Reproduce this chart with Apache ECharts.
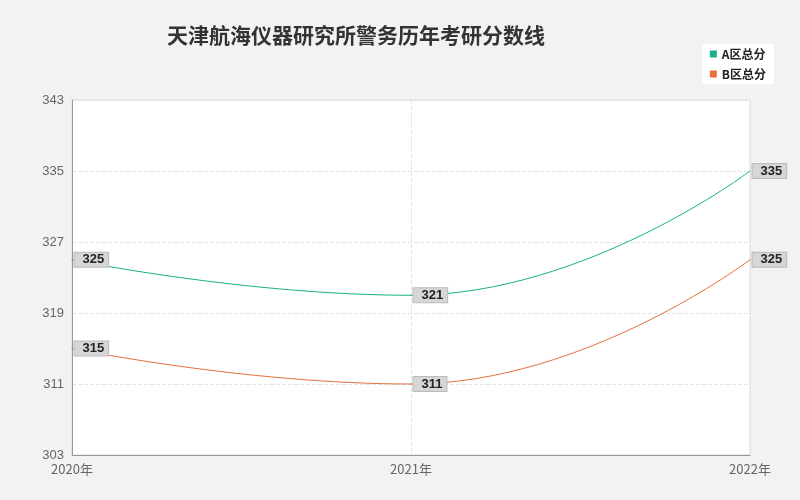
<!DOCTYPE html>
<html><head><meta charset="utf-8">
<script src="https://cdn.jsdelivr.net/npm/echarts@6/dist/echarts.min.js"></script>
<style>html,body{margin:0;background:#f2f2f2}#c{width:800px;height:500px}</style>
</head><body><div id="c"></div>
<script>
const categories=['2020年','2021年','2022年'];
const seriesA=[325,321,335];
const seriesB=[315,311,325];
const yTicks={min:303,max:343,interval:8};
const chart=echarts.init(document.getElementById('c'));
const lbl={show:true,position:'right',distance:2,color:'#222',fontSize:13,fontWeight:'bold',backgroundColor:'#d6d6d6',borderColor:'#bbb',borderWidth:1,padding:[1,4,0,8]};
chart.setOption({
 backgroundColor:'#f2f2f2',
 title:{text:'天津航海仪器研究所警务历年考研分数线',left:162,top:20,textStyle:{fontSize:21,fontWeight:'bold',color:'#333',fontFamily:'Noto Sans CJK SC'}},
 legend:{orient:'vertical',right:26,top:44,backgroundColor:'#fff',borderRadius:4,padding:[4,8],itemWidth:7,itemHeight:7,icon:'rect',textStyle:{fontSize:12,color:'#222',fontWeight:'bold',fontFamily:'Noto Sans CJK SC'},data:['A区总分','B区总分']},
 grid:{left:72,right:50,top:100,bottom:45,show:true,backgroundColor:'#fff',borderColor:'#ddd',borderWidth:1},
 xAxis:{type:'category',data:categories,boundaryGap:false,axisLine:{lineStyle:{color:'#999'}},axisTick:{show:false},axisLabel:{color:'#666',fontSize:13,fontFamily:'Noto Sans CJK SC'},splitLine:{show:true,lineStyle:{type:'dashed',color:'#e4e4e4'}}},
 yAxis:{type:'value',min:yTicks.min,max:yTicks.max,interval:yTicks.interval,axisLine:{show:true,lineStyle:{color:'#999'}},axisTick:{show:false},axisLabel:{color:'#666',fontSize:13},splitLine:{lineStyle:{type:'dashed',color:'#e4e4e4'}}},
 series:[
  {name:'A区总分',type:'line',smooth:true,data:seriesA,symbol:'circle',symbolSize:1,showSymbol:true,lineStyle:{width:1,color:'#1aaf8b'},itemStyle:{color:'#1aaf8b'},label:lbl},
  {name:'B区总分',type:'line',smooth:true,data:seriesB,symbol:'circle',symbolSize:1,showSymbol:true,lineStyle:{width:1,color:'#e8703a'},itemStyle:{color:'#e8703a'},label:lbl}
 ]
});
</script></body></html>
